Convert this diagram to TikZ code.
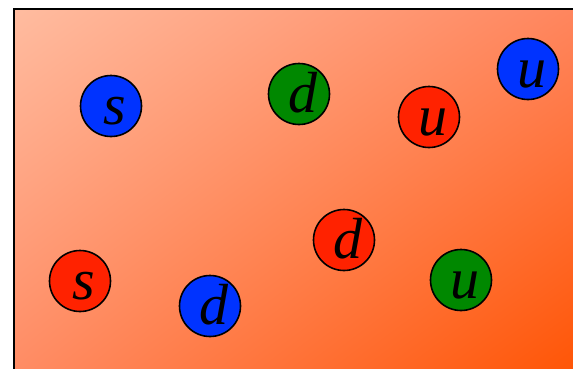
\documentclass[tikz,border=0pt]{standalone}
\usepackage{fontspec}
\usetikzlibrary{shadings}
\setmainfont{Liberation Serif}
\definecolor{bgul}{RGB}{255,188,160}
\definecolor{bgur}{RGB}{255,132,92}
\definecolor{bgll}{RGB}{255,138,98}
\definecolor{bglr}{RGB}{255,82,0}
\definecolor{qr}{RGB}{255,34,0}
\definecolor{qb}{RGB}{0,51,255}
\definecolor{qg}{RGB}{0,136,0}
\newcommand{\qlet}[1]{\kern8pt #1}
\begin{document}
\begin{tikzpicture}[x=1pt,y=-1pt,
  quark/.style={circle,draw=black,line width=1.6pt,minimum size=61pt,inner sep=0pt,
    text height=37pt,text depth=0pt,font=\fontsize{58}{58}\selectfont\itshape},
  qred/.style={quark,fill=qr},
  qblue/.style={quark,fill=qb},
  qgreen/.style={quark,fill=qg}]
\useasboundingbox (0,0) rectangle (573,368);
\begin{scope}
\clip (0,0) rectangle (573,368);
\shade[upper left=bgul, upper right=bgur, lower left=bgll, lower right=bglr]
  (14,9) rectangle (590,385);
\draw[line width=1.5pt] (14,385) -- (14,9) -- (590,9);
\end{scope}
\node[qblue]  (s1) at (111,106) {\qlet{s}};
\node[qgreen] (d1) at (299,94)  {\qlet{d}};
\node[qred]   (u1) at (429,117) {\qlet{u}};
\node[qblue]  (u2) at (528,69)  {\qlet{u}};
\node[qred]   (s2) at (80,281)  {\qlet{s}};
\node[qblue]  (d2) at (210,306) {\qlet{d}};
\node[qred]   (d3) at (344,240) {\qlet{d}};
\node[qgreen] (u3) at (461,280) {\qlet{u}};
\end{tikzpicture}
\end{document}
